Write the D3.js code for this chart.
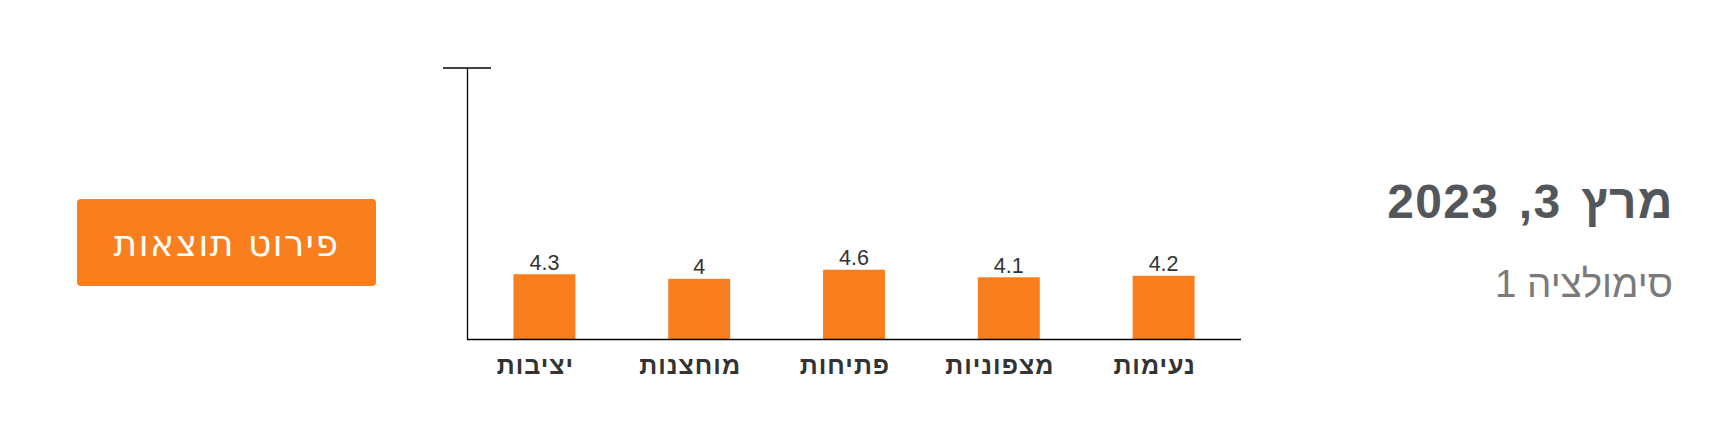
<!DOCTYPE html>
<html lang="he">
<head>
<meta charset="utf-8">
<script src="https://cdn.jsdelivr.net/npm/d3@7"></script>
<style>
  html, body { margin: 0; padding: 0; background: #fff; }
  svg { display: block; }
  .rtl { direction: rtl; unicode-bidi: embed; }
</style>
</head>
<body>
<svg id="chart" width="1721" height="434"></svg>
<script>
// ---- data ----
const categories = ["נעימות", "מצפוניות", "פתיחות", "מוחצנות", "יציבות"];
const values = [4.2, 4.1, 4.6, 4, 4.3];
const yMax = 18;
const titleText = "מרץ 3, 2023";
const subtitleText = "סימולציה 1";
const buttonText = "פירוט תוצאות";

const svg = d3.select("#chart");
const orange = "#f97e1d";

// scales (RTL: first category on the right)
const x = d3.scaleBand()
  .domain(categories.slice().reverse())
  .range([467, 1241])
  .paddingInner(0.6)
  .paddingOuter(0.3);
const y = d3.scaleLinear().domain([0, yMax]).range([339, 68]);

const data = categories.map((c, i) => ({ c, v: values[i] }));

// bars
svg.append("g").selectAll("rect").data(data).join("rect")
  .attr("x", d => x(d.c))
  .attr("y", d => y(d.v))
  .attr("width", x.bandwidth())
  .attr("height", d => y(0) - y(d.v))
  .attr("fill", orange);

// value labels
svg.append("g").selectAll("text").data(data).join("text")
  .attr("x", d => x(d.c) + x.bandwidth() / 2)
  .attr("y", d => y(d.v) - 4.5)
  .attr("text-anchor", "middle")
  .attr("font-family", "Liberation Sans, Arial, sans-serif")
  .attr("font-size", 21.5)
  .attr("fill", "#333")
  .text(d => d.v);

// x axis
const xAxis = svg.append("g")
  .attr("transform", `translate(0,${y(0)})`)
  .call(d3.axisBottom(x).tickSize(0).tickPadding(0));
xAxis.select(".domain").attr("stroke", "#000").attr("stroke-width", 1.3)
  .attr("d", `M${x.range()[0]},0.5H${x.range()[1]}`);
xAxis.selectAll(".tick text")
  .attr("class", "rtl")
  .attr("dy", 0)
  .attr("y", 35)
  .attr("x", -9)
  .attr("font-family", "Liberation Sans, Arial, sans-serif")
  .attr("font-size", 25)
  .attr("font-weight", "bold")
  .attr("letter-spacing", 1)
  .attr("fill", "#333")
  .attr("text-anchor", "middle");

// y axis
const yAxis = svg.append("g")
  .attr("transform", `translate(${x.range()[0]},0)`)
  .call(d3.axisLeft(y).tickValues([]).tickSizeOuter(0));
yAxis.select(".domain").attr("stroke", "#000").attr("stroke-width", 1.3);
yAxis.append("line")
  .attr("x1", -24).attr("x2", 24)
  .attr("y1", y(yMax)).attr("y2", y(yMax))
  .attr("stroke", "#000").attr("stroke-width", 1.3);

// title
svg.append("text")
  .attr("class", "rtl")
  .attr("x", 1674).attr("y", 217.5)
  .attr("text-anchor", "start")
  .attr("font-family", "Liberation Sans, Arial, sans-serif")
  .attr("font-size", 48)
  .attr("font-weight", "bold")
  .attr("letter-spacing", 1.3)
  .attr("word-spacing", 5)
  .attr("fill", "#53575c")
  .text(titleText);

svg.append("text")
  .attr("class", "rtl")
  .attr("x", 1673).attr("y", 296.7)
  .attr("text-anchor", "start")
  .attr("font-family", "Liberation Sans, Arial, sans-serif")
  .attr("font-size", 38.5)
  .attr("fill", "#7a7a7a")
  .text(subtitleText);

// button
const btn = svg.append("g");
btn.append("rect")
  .attr("x", 77).attr("y", 199)
  .attr("width", 299).attr("height", 87)
  .attr("rx", 4)
  .attr("fill", orange);
btn.append("text")
  .attr("class", "rtl")
  .attr("x", 77 + 299 / 2).attr("y", 256)
  .attr("text-anchor", "middle")
  .attr("font-family", "DejaVu Sans, sans-serif")
  .attr("font-size", 36)
  .attr("letter-spacing", 1.5)
  .attr("fill", "#fff")
  .text(buttonText);
</script>
</body>
</html>
